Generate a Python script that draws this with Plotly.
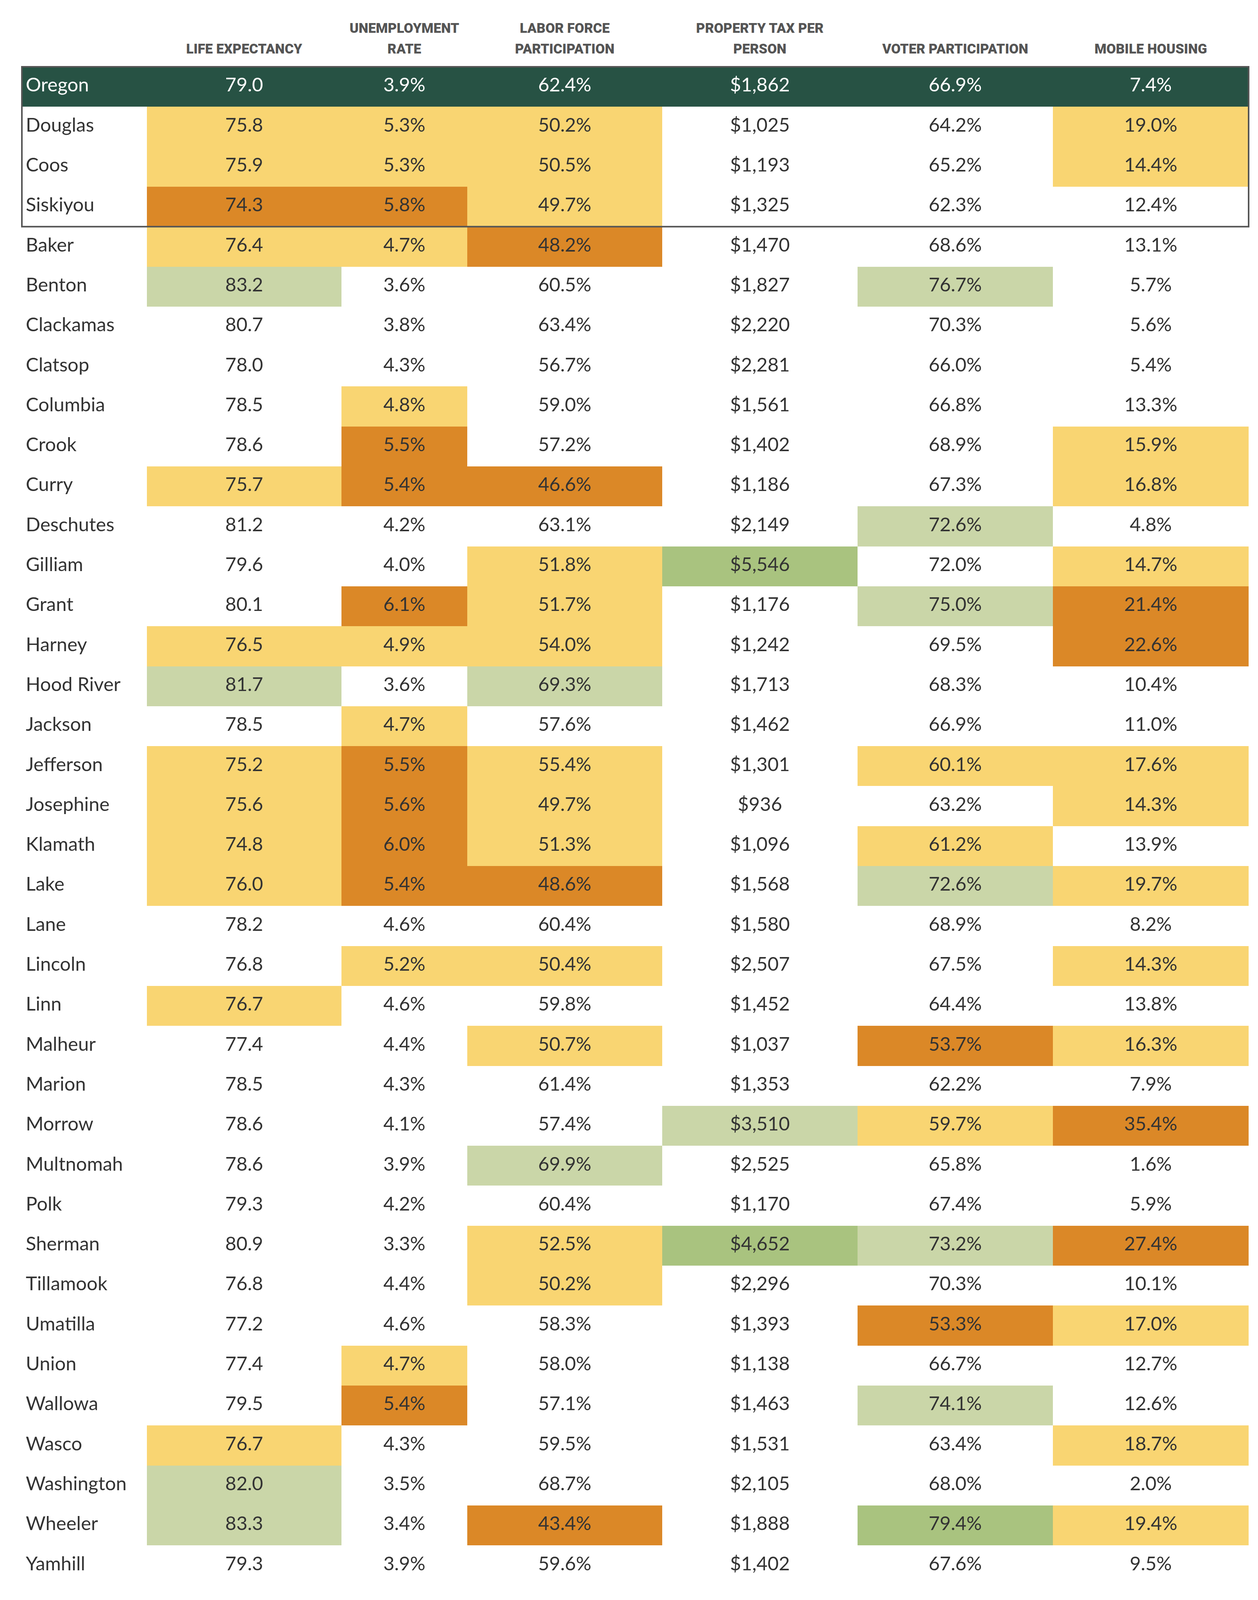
import plotly.graph_objects as go

# Rows of the table (Oregon state total first, then counties)
places = ["Oregon", "Douglas", "Coos", "Siskiyou", "Baker", "Benton", "Clackamas", "Clatsop",
          "Columbia", "Crook", "Curry", "Deschutes", "Gilliam", "Grant", "Harney", "Hood River",
          "Jackson", "Jefferson", "Josephine", "Klamath", "Lake", "Lane", "Lincoln", "Linn",
          "Malheur", "Marion", "Morrow", "Multnomah", "Polk", "Sherman", "Tillamook", "Umatilla",
          "Union", "Wallowa", "Wasco", "Washington", "Wheeler", "Yamhill"]

life_expectancy = [79.0, 75.8, 75.9, 74.3, 76.4, 83.2, 80.7, 78.0, 78.5, 78.6, 75.7, 81.2, 79.6,
                   80.1, 76.5, 81.7, 78.5, 75.2, 75.6, 74.8, 76.0, 78.2, 76.8, 76.7, 77.4, 78.5,
                   78.6, 78.6, 79.3, 80.9, 76.8, 77.2, 77.4, 79.5, 76.7, 82.0, 83.3, 79.3]
unemployment = [3.9, 5.3, 5.3, 5.8, 4.7, 3.6, 3.8, 4.3, 4.8, 5.5, 5.4, 4.2, 4.0, 6.1, 4.9, 3.6,
                4.7, 5.5, 5.6, 6.0, 5.4, 4.6, 5.2, 4.6, 4.4, 4.3, 4.1, 3.9, 4.2, 3.3, 4.4, 4.6,
                4.7, 5.4, 4.3, 3.5, 3.4, 3.9]
labor_force = [62.4, 50.2, 50.5, 49.7, 48.2, 60.5, 63.4, 56.7, 59.0, 57.2, 46.6, 63.1, 51.8,
               51.7, 54.0, 69.3, 57.6, 55.4, 49.7, 51.3, 48.6, 60.4, 50.4, 59.8, 50.7, 61.4,
               57.4, 69.9, 60.4, 52.5, 50.2, 58.3, 58.0, 57.1, 59.5, 68.7, 43.4, 59.6]
property_tax = [1862, 1025, 1193, 1325, 1470, 1827, 2220, 2281, 1561, 1402, 1186, 2149, 5546,
                1176, 1242, 1713, 1462, 1301, 936, 1096, 1568, 1580, 2507, 1452, 1037, 1353,
                3510, 2525, 1170, 4652, 2296, 1393, 1138, 1463, 1531, 2105, 1888, 1402]
voter_participation = [66.9, 64.2, 65.2, 62.3, 68.6, 76.7, 70.3, 66.0, 66.8, 68.9, 67.3, 72.6,
                       72.0, 75.0, 69.5, 68.3, 66.9, 60.1, 63.2, 61.2, 72.6, 68.9, 67.5, 64.4,
                       53.7, 62.2, 59.7, 65.8, 67.4, 73.2, 70.3, 53.3, 66.7, 74.1, 63.4, 68.0,
                       79.4, 67.6]
mobile_housing = [7.4, 19.0, 14.4, 12.4, 13.1, 5.7, 5.6, 5.4, 13.3, 15.9, 16.8, 4.8, 14.7, 21.4,
                  22.6, 10.4, 11.0, 17.6, 14.3, 13.9, 19.7, 8.2, 14.3, 13.8, 16.3, 7.9, 35.4,
                  1.6, 5.9, 27.4, 10.1, 17.0, 12.7, 12.6, 18.7, 2.0, 19.4, 9.5]

# Cell highlight per column, one letter per row:
# W = none, Y = worse, O = much worse, L = better, G = much better, D = state row
name_flag = "DWWWWWWWWWWWWWWWWWWWWWWWWWWWWWWWWWWWWW"
life_flag = "DYYOYLWWWWYWWWYLWYYYYWWYWWWWWWWWWWYLLW"
unemp_flag = "DYYOYWWWYOOWWOYWYOOOOWYWWWWWWWWWYOWWWW"
labor_flag = "DYYYOWWWWWOWYYYLWYYYOWYWYWWLWYYWWWWWOW"
tax_flag = "DWWWWWWWWWWWGWWWWWWWWWWWWWLWWGWWWWWWWW"
voter_flag = "DWWWWLWWWWWLWLWWWYWYLWWWOWYWWLWOWLWWGW"
mobile_flag = "DYYWWWWWWYYWYOOWWYYWYWYWYWOWWOWYWWYWYW"

header_top = ["", "", "UNEMPLOYMENT", "LABOR FORCE", "PROPERTY TAX PER", "", ""]
header_bottom = ["", "LIFE EXPECTANCY", "RATE", "PARTICIPATION", "PERSON",
                 "VOTER PARTICIPATION", "MOBILE HOUSING"]

# page geometry (pixels of the 3220 x 4170 design)
W, H = 3220, 4170
page_margin = 8                      # browser body margin around the plot div
view_h = 4098                        # visible height of the page
scale_y = view_h / H
fig_h = view_h - page_margin

col_edges = [56, 376, 874, 1196, 1695, 2195, 2695, 3196]
row_top, row_h = 174, 104.1
first_center = row_top + row_h / 2

flag_index = {"W": 0, "Y": 1, "O": 2, "L": 3, "G": 4, "D": 5}
flag_colors = ["#ffffff", "#f9d572", "#db8827", "#cad6a8", "#a9c37f", "#275244"]
n_flags = len(flag_colors)
colorscale = []
for i, c in enumerate(flag_colors):
    colorscale += [[i / n_flags, c], [(i + 1) / n_flags, c]]

flags = [name_flag, life_flag, unemp_flag, labor_flag, tax_flag, voter_flag, mobile_flag]
rows = list(range(len(places)))
z = [[flag_index[f[r]] for f in flags] for r in rows]

fig = go.Figure()
fig.add_trace(go.Heatmap(
    z=z, x=col_edges, y=rows, colorscale=colorscale, zmin=-0.5, zmax=n_flags - 0.5,
    showscale=False, hoverinfo="skip"))

body_font = "Lato, 'Open Sans', sans-serif"
body_size = 49
text_colors = ["#ffffff" if f == "D" else "#333333" for f in name_flag]

# county names, left aligned
fig.add_trace(go.Scatter(
    x=[col_edges[0] + 10] * len(places), y=rows, mode="text", text=places,
    textposition="middle right", cliponaxis=False,
    textfont=dict(family=body_font, size=body_size, color=text_colors)))

columns = [
    [f"{v:.1f}" for v in life_expectancy],
    [f"{v:.1f}%" for v in unemployment],
    [f"{v:.1f}%" for v in labor_force],
    [f"${v:,}" for v in property_tax],
    [f"{v:.1f}%" for v in voter_participation],
    [f"{v:.1f}%" for v in mobile_housing],
]
for k, labels in enumerate(columns, start=1):
    cx = (col_edges[k] + col_edges[k + 1]) / 2
    fig.add_trace(go.Scatter(
        x=[cx] * len(labels), y=rows, mode="text", text=labels,
        textposition="middle center", cliponaxis=False,
        textfont=dict(family=body_font, size=body_size, color=text_colors)))

# two-line column headers
centers = [(col_edges[k] + col_edges[k + 1]) / 2 for k in range(len(header_bottom))]
head_font = dict(family="Roboto, 'Liberation Sans', sans-serif", size=35, color="#555555",
                 weight=900)
for line, py in [(header_top, 77), (header_bottom, 131)]:
    fig.add_trace(go.Scatter(
        x=centers, y=[(py - first_center) / row_h] * len(line), mode="text", text=line,
        textposition="middle center", cliponaxis=False, textfont=head_font))

# box around the state row and the comparison counties
fig.add_shape(type="rect", xref="x", yref="y", x0=col_edges[0], x1=col_edges[-1],
              y0=-0.5, y1=3.5, line=dict(color="#555555", width=4), layer="above")

# axes in design pixels / row units, shifted for the page margin
y_top = (page_margin / scale_y - first_center) / row_h
y_bottom = (H - first_center) / row_h
fig.update_xaxes(range=[page_margin, W + page_margin], visible=False, fixedrange=True)
fig.update_yaxes(range=[y_bottom, y_top], visible=False, fixedrange=True)
fig.update_layout(
    width=W, height=fig_h, margin=dict(l=0, r=0, t=0, b=0),
    paper_bgcolor="white", plot_bgcolor="white", showlegend=False,
)

fig.write_html("out.html")
